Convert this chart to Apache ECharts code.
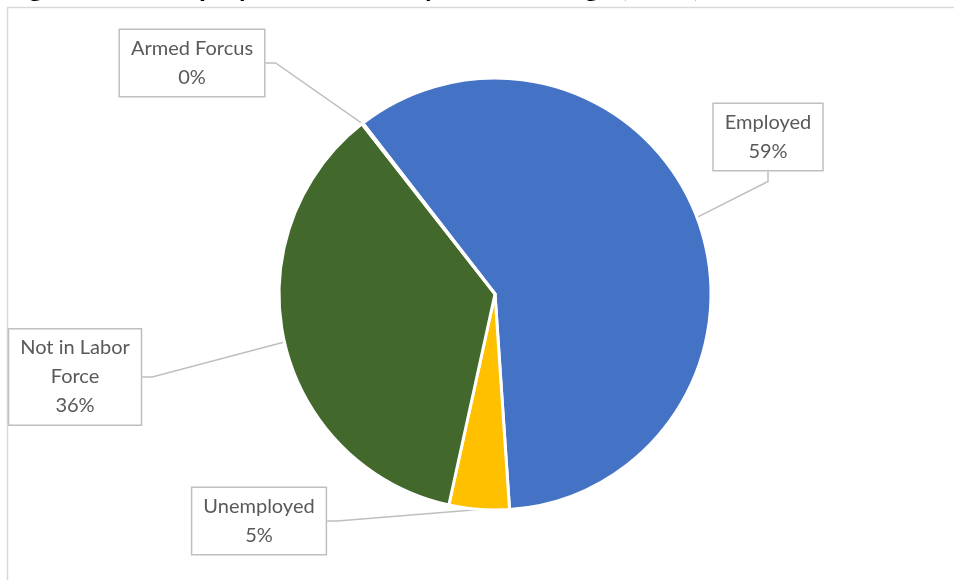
<!DOCTYPE html>
<html>
<head>
<meta charset="utf-8">
<script src="https://cdn.jsdelivr.net/npm/echarts@6/dist/echarts.min.js"></script>
<style>html,body{margin:0;padding:0;background:#fff;}#c{width:954px;height:580px;}</style>
</head>
<body>
<div id="c"></div>
<script>
const titleText = 'Figure 2.12: Employment Status by Race and Age (2019)';
const categories = ['Employed', 'Unemployed', 'Not in Labor\nForce', 'Armed Forcus'];
const values = [59.4, 4.5, 36.0, 0.1];
const colors = ['#4472C4', '#FFC000', '#43682B', '#A5A5A5'];
const labelPos = [[768, 137], [259, 521], [75, 377], [192, 63]];

const chart = echarts.init(document.getElementById('c'));
const total = values.reduce((a, b) => a + b, 0);
chart.setOption({
  animation: false,
  title: {
    text: titleText, left: 0, top: -32,
    textStyle: { fontFamily: 'Lato', fontWeight: 'bold', fontSize: 28, color: '#000' }
  },
  graphic: [{
    type: 'rect', silent: true, z: -1,
    shape: { x: 7.5, y: 7.5, width: 1000, height: 1000 },
    style: { fill: 'none', stroke: '#d9d9d9', lineWidth: 1.5 }
  }],
  series: [{
    type: 'pie',
    center: [495, 294],
    radius: 216,
    startAngle: 127.7,
    clockwise: true,
    avoidLabelOverlap: false,
    itemStyle: { borderColor: '#fff', borderWidth: 3 },
    data: categories.map((n, i) => ({ name: n, value: values[i], itemStyle: { color: colors[i] } })),
    label: {
      show: true, position: 'outside',
      formatter: p => p.name + '\n' + Math.round(p.value / total * 100) + '%',
      fontFamily: 'Lato', fontSize: 20, color: '#595959', lineHeight: 29,
      backgroundColor: '#fff', borderColor: '#bfbfbf', borderWidth: 1.5,
      padding: [5, 11, 3, 11], align: 'center'
    },
    labelLine: { show: true, length: 10, length2: 10, lineStyle: { color: '#bfbfbf', width: 1.5 } },
    labelLayout: p => ({ x: labelPos[p.dataIndex][0], y: labelPos[p.dataIndex][1], align: 'center', verticalAlign: 'middle' })
  }]
});
</script>
</body>
</html>
